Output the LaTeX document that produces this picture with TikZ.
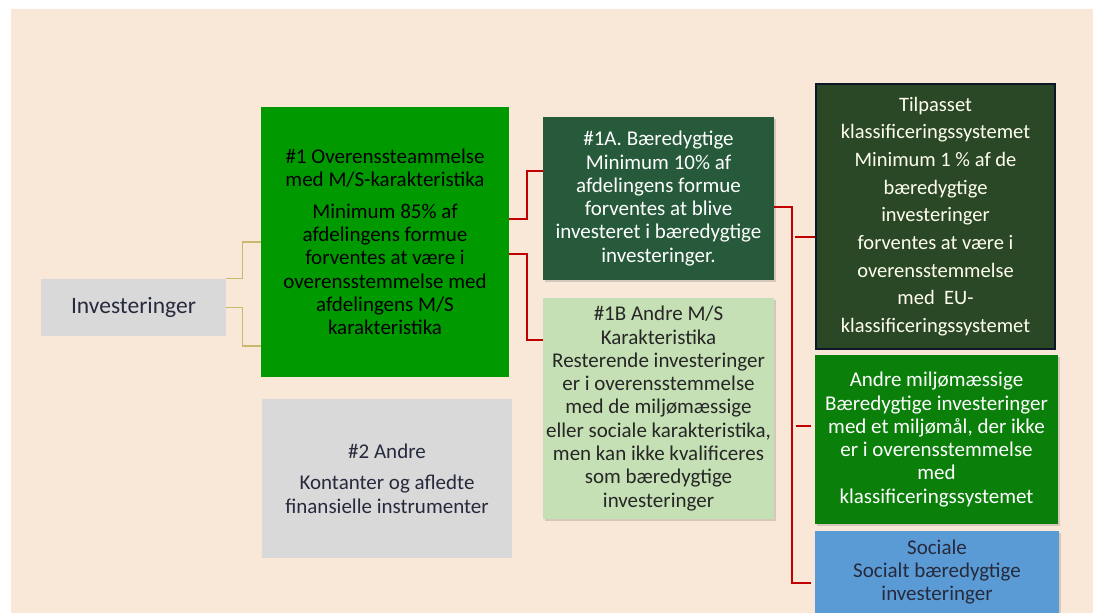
\documentclass[tikz,border=0pt]{standalone}
\usepackage{fontspec}
\setmainfont{Carlito}
\usetikzlibrary{shadows}

\definecolor{panel}{HTML}{F9E8D7}
\definecolor{greybox}{HTML}{D9D9D9}
\definecolor{mainsgreen}{HTML}{009A00}
\definecolor{sustgreen}{HTML}{265A3B}
\definecolor{lightgreen}{HTML}{C5E0B4}
\definecolor{taxgreen}{HTML}{2A4825}
\definecolor{taxborder}{HTML}{0C1626}
\definecolor{envgreen}{HTML}{0A7F0A}
\definecolor{socblue}{HTML}{5B9BD5}
\definecolor{navytext}{HTML}{262A3C}
\definecolor{linkred}{HTML}{C00000}
\definecolor{linktan}{HTML}{C8B96E}

\begin{document}
\begin{tikzpicture}[x=1pt, y=-1pt]
\tikzstyle{box}=[inner sep=0pt, align=center, font=\fontsize{21}{23.3}\selectfont];
\tikzstyle{shade}=[drop shadow={shadow xshift=1.5pt, shadow yshift=-2pt, opacity=0.3}];
\tikzstyle{redlink}=[linkred, line width=2pt];
\tikzstyle{tanlink}=[linktan, line width=1.3pt];

\useasboundingbox (0, 0) rectangle (1093, 613);
\fill[panel] (11, 9) rectangle (1093, 613);

\node[box, fill=greybox, text=navytext, minimum width=185pt, minimum height=57pt,
  font=\fontsize{23.5}{26}\selectfont] (inv) at (133.5, 307.5) {Investeringer};

\node[box, fill=mainsgreen, text=black, minimum width=248pt, minimum height=270pt] (grp1) at (385, 242)
  {\#1 Overenssteammelse\\med M/S-karakteristika\\[8pt]Minimum 85\% af\\afdelingens formue\\forventes at være i\\overensstemmelse med\\afdelingens M/S\\karakteristika};
\node[box, fill=greybox, text=navytext, minimum width=250pt, minimum height=159pt] (grp2) at (387, 478.5)
  {\#2 Andre\\[8pt]Kontanter og afledte\\finansielle instrumenter};

\node[box, shade, fill=sustgreen, text=white, minimum width=231pt, minimum height=163pt] (a1) at (658.5, 198.5)
  {\#1A. Bæredygtige\\Minimum 10\% af\\afdelingens formue\\forventes at blive\\investeret i bæredygtige\\investeringer.};
\node[box, shade, fill=lightgreen, text=black!85, minimum width=231pt, minimum height=221pt] (b1) at (658.5, 408.5)
  {\#1B Andre M/S\\Karakteristika\\Resterende investeringer\\er i overensstemmelse\\med de miljømæssige\\eller sociale karakteristika,\\men kan ikke kvalificeres\\som bæredygtige\\investeringer};

\node[box, fill=taxgreen, draw=taxborder, line width=2.5pt, text=white!94!yellow, minimum width=239pt, minimum height=265pt,
  font=\fontsize{20.5}{27.7}\selectfont] (tax) at (935.5, 216.5)
  {Tilpasset\\klassificeringssystemet\\Minimum 1 \% af de\\bæredygtige\\investeringer\\forventes at være i\\overensstemmelse\\med\ \ EU-\\klassificeringssystemet};
\node[box, shade, fill=envgreen, text=white, minimum width=243pt, minimum height=169pt] (env) at (936.5, 439.5)
  {Andre miljømæssige\\Bæredygtige investeringer\\med et miljømål, der ikke\\er i overensstemmelse\\med\\klassificeringssystemet};
\node[box, shade, fill=socblue, text=navytext, minimum width=244pt, minimum height=82pt] (soc) at (937, 572)
  {Sociale\\Socialt bæredygtige\\investeringer};

% links from the investments box
\draw[tanlink] (inv.north east) -- ++(16, 0) |- (grp1.west);
\draw[tanlink] (inv.east) -- ++(16, 0) |- ([yshift=-104pt]grp1.west);

% links from #1
\draw[redlink] ([yshift=23pt]grp1.east) -- ++(18, 0) |- ([yshift=27.5pt]a1.west);
\draw[redlink] ([yshift=-12pt]grp1.east) -- ++(18, 0) |- ([yshift=68.5pt]b1.west);

% links from #1A
\draw[redlink] ([yshift=-8.5pt]a1.east) -- ++(18, 0) |- ([xshift=-4pt, yshift=-11pt]soc.west);
\coordinate (taxin) at (795, 237);
\coordinate (envin) at (796, 426);
\draw[redlink] (taxin) -- (tax.west |- taxin);
\draw[redlink] (envin) -- ([xshift=-4pt]env.west |- envin);
\end{tikzpicture}
\end{document}
